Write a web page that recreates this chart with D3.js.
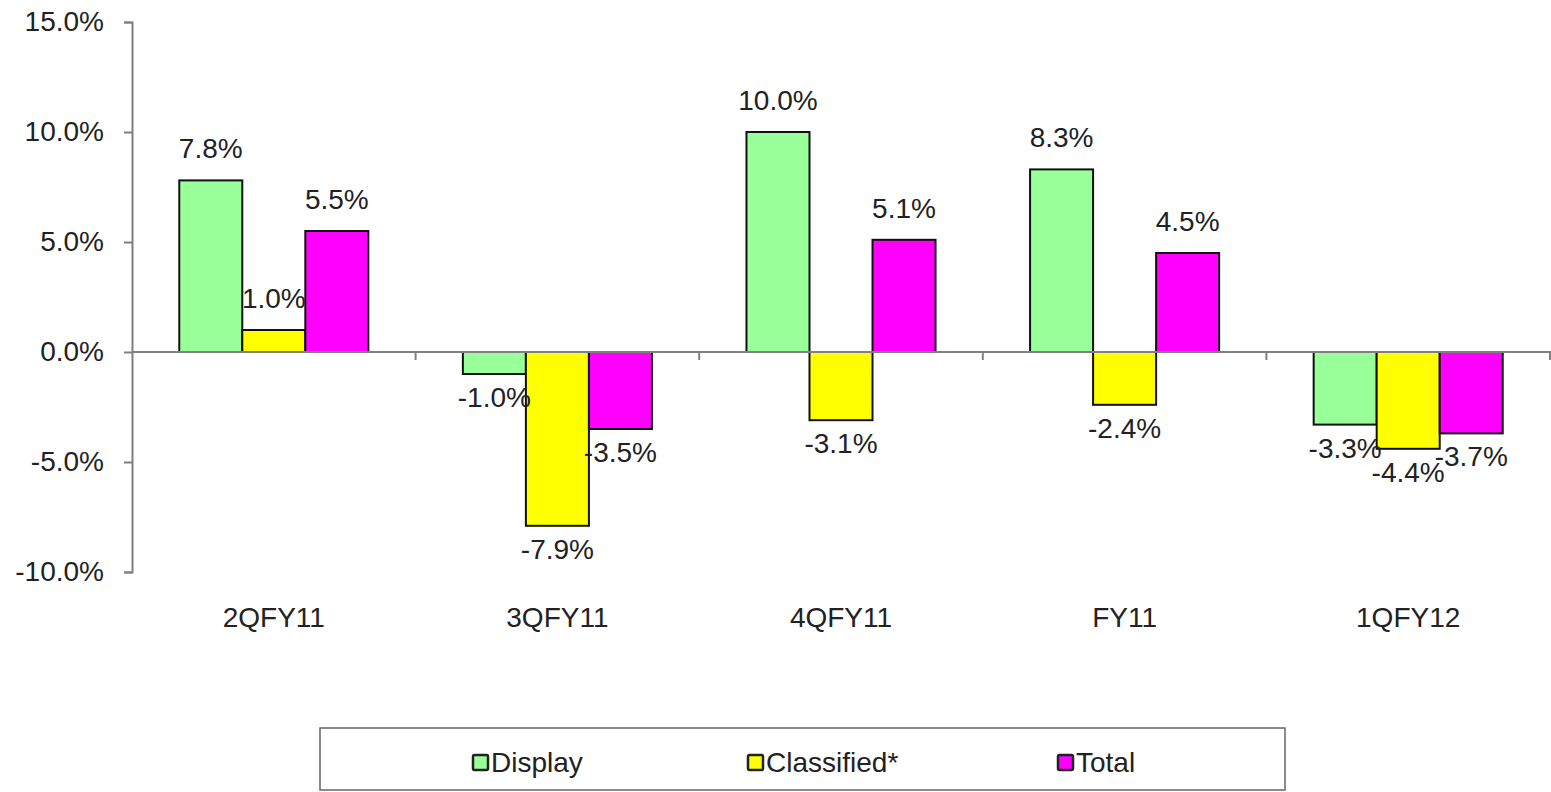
<!DOCTYPE html>
<html><head><meta charset="utf-8">
<script src="https://cdn.jsdelivr.net/npm/d3@7"></script>
<style>
html,body{margin:0;padding:0;background:#fff;}
svg{display:block;font-family:"Liberation Sans",Arial,sans-serif;}
</style></head>
<body>
<svg id="chart" width="1551" height="792"></svg>
<script>
const categories = ["2QFY11","3QFY11","4QFY11","FY11","1QFY12"];
const seriesNames = ["Display","Classified*","Total"];
const displayValues = [7.8, -1.0, 10.0, 8.3, -3.3];
const classifiedValues = [1.0, -7.9, -3.1, -2.4, -4.4];
const totalValues = [5.5, -3.5, 5.1, 4.5, -3.7];
const yTicks = [-10, -5, 0, 5, 10, 15];
const colors = ["#99FF99", "#FFFF00", "#FF00FF"];

(function () {
const series = [displayValues, classifiedValues, totalValues];
const svg = d3.select("#chart");
const mLeft = 132, mRight = 1550, mTop = 22, mBottom = 572;
const fs = 28;
const pct = v => v.toFixed(1) + "%";

const y = d3.scaleLinear().domain([-10, 15]).range([mBottom, mTop]);
const x0 = d3.scaleBand().domain(categories).range([mLeft, mRight]).paddingInner(0).paddingOuter(0);
const innerPad = (x0.bandwidth() - x0.bandwidth() * 2 / 3) / 2;
const x1 = d3.scaleBand().domain(seriesNames).range([innerPad, x0.bandwidth() - innerPad]).padding(0);

// Y axis
const yAxis = d3.axisLeft(y).tickValues(yTicks).tickSize(8).tickPadding(20).tickFormat(pct);
const gy = svg.append("g").attr("transform", `translate(${mLeft},0)`).call(yAxis);
gy.select(".domain").attr("stroke", "#808080").attr("stroke-width", 2);
gy.selectAll(".tick line").attr("stroke", "#808080").attr("stroke-width", 2);
gy.selectAll(".tick text").attr("font-size", fs).attr("fill", "#222")
  .attr("font-family", "Liberation Sans, Arial, sans-serif");

// Bars
const groups = svg.append("g").selectAll("g").data(categories).join("g")
  .attr("transform", d => `translate(${x0(d)},0)`);
const barData = (c, i) => seriesNames.map((s, k) => ({s, k, v: series[k][i]}));
groups.selectAll("rect").data((c, i) => barData(c, i)).join("rect")
  .attr("x", d => x1(d.s))
  .attr("width", x1.bandwidth())
  .attr("y", d => y(Math.max(0, d.v)))
  .attr("height", d => Math.abs(y(d.v) - y(0)))
  .attr("fill", d => colors[d.k])
  .attr("stroke", "#111").attr("stroke-width", 2);

// X axis line at zero
const xAxisG = svg.append("g");
xAxisG.append("line").attr("x1", mLeft).attr("x2", 1551).attr("y1", y(0)).attr("y2", y(0))
  .attr("stroke", "#808080").attr("stroke-width", 2);
const boundaries = categories.map(c => x0(c)).concat([x0(categories[categories.length-1]) + x0.bandwidth()]);
xAxisG.selectAll("line.t").data(boundaries.slice(1)).join("line").attr("class","t")
  .attr("x1", d => d).attr("x2", d => d).attr("y1", y(0)).attr("y2", y(0) + 8)
  .attr("stroke", "#808080").attr("stroke-width", 2);

// Value labels
groups.selectAll("text.val").data((c, i) => barData(c, i)).join("text").attr("class", "val")
  .attr("x", d => x1(d.s) + x1.bandwidth() / 2)
  .attr("y", d => d.v >= 0 ? y(d.v) - 22 : y(d.v) + 33)
  .attr("text-anchor", "middle").attr("font-size", fs).attr("fill", "#222")
  .text(d => pct(d.v));

// Category labels
svg.append("g").selectAll("text").data(categories).join("text")
  .attr("x", d => x0(d) + x0.bandwidth() / 2)
  .attr("y", 627)
  .attr("text-anchor", "middle").attr("font-size", fs).attr("fill", "#222")
  .text(d => d);

// Legend
const lg = svg.append("g");
lg.append("rect").attr("x", 320).attr("y", 728).attr("width", 965).attr("height", 62)
  .attr("fill", "#fff").attr("stroke", "#666").attr("stroke-width", 1.5);
const legendX = [473, 748, 1058];
seriesNames.forEach((s, k) => {
  const g = lg.append("g").attr("transform", `translate(${legendX[k]},755)`);
  g.append("rect").attr("width", 15).attr("height", 15).attr("fill", colors[k])
    .attr("stroke", "#222").attr("stroke-width", 2.5).attr("rx", 1.5);
  g.append("text").attr("x", 18).attr("y", 17).attr("font-size", fs).attr("fill", "#222").text(s);
});
})();
</script>
</body></html>
